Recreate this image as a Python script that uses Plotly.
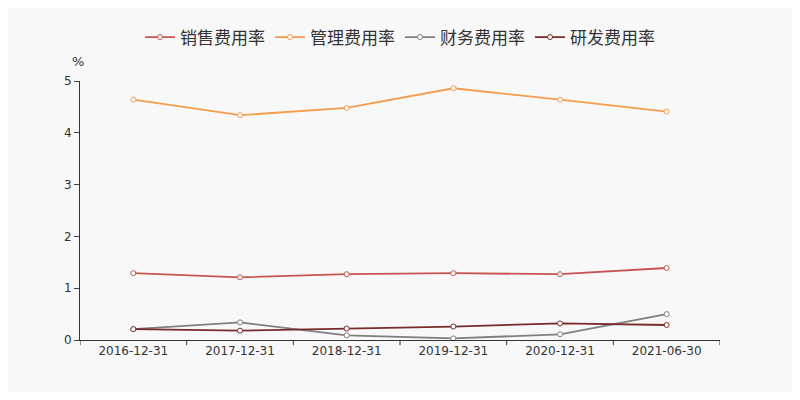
import plotly.graph_objects as go

dates = ["2016-12-31","2017-12-31","2018-12-31","2019-12-31","2020-12-31","2021-06-30"]
sales = [1.29,1.21,1.27,1.29,1.27,1.39]
admin = [4.64,4.34,4.48,4.86,4.64,4.41]
finance = [0.21,0.34,0.09,0.03,0.11,0.50]
rnd = [0.21,0.18,0.22,0.26,0.32,0.29]
names = ["销售费用率","管理费用率","财务费用率","研发费用率"]
colors = ["#c75450","#f59b4c","#7f7f7f","#7a2b2b"]

fig = go.Figure()
for n, v, c in zip(names, [sales, admin, finance, rnd], colors):
    fig.add_trace(go.Scatter(x=list(range(len(dates))), y=v, name=n, mode="lines+markers",
        line=dict(color=c, width=1.8), marker=dict(size=5, color="white", line=dict(color=c, width=1))))

fig.update_layout(
    width=784, height=384, paper_bgcolor="#f8f8f8", plot_bgcolor="#f8f8f8",
    margin=dict(l=72, r=72, t=52, b=52),
    font=dict(family="DejaVu Sans, Noto Sans CJK SC", color="#333"),
    legend=dict(orientation="h", x=0.5, xanchor="center", y=1.168, yanchor="middle", font=dict(size=17),
                itemwidth=30),
    xaxis=dict(tickvals=list(range(6)), ticktext=dates, range=[-0.5,5.5], showgrid=False,
               showline=True, linecolor="#333", ticks="", tickfont=dict(size=12), zeroline=False),
    yaxis=dict(range=[0,5], dtick=1, showgrid=False, showline=True, linecolor="#333", ticks="outside",
               ticklen=5, tickfont=dict(size=12), zeroline=False),
    annotations=[dict(text="%", xref="paper", yref="paper", x=0, y=1.04, xanchor="center",
                      yanchor="bottom", showarrow=False, font=dict(size=13), xshift=-2)],
)
for i in range(7):
    fig.add_shape(type="line", xref="x", yref="paper", x0=i-0.5, x1=i-0.5, y0=0, y1=-0.02,
                  line=dict(color="#333", width=1))
fig.write_html("out.html")
